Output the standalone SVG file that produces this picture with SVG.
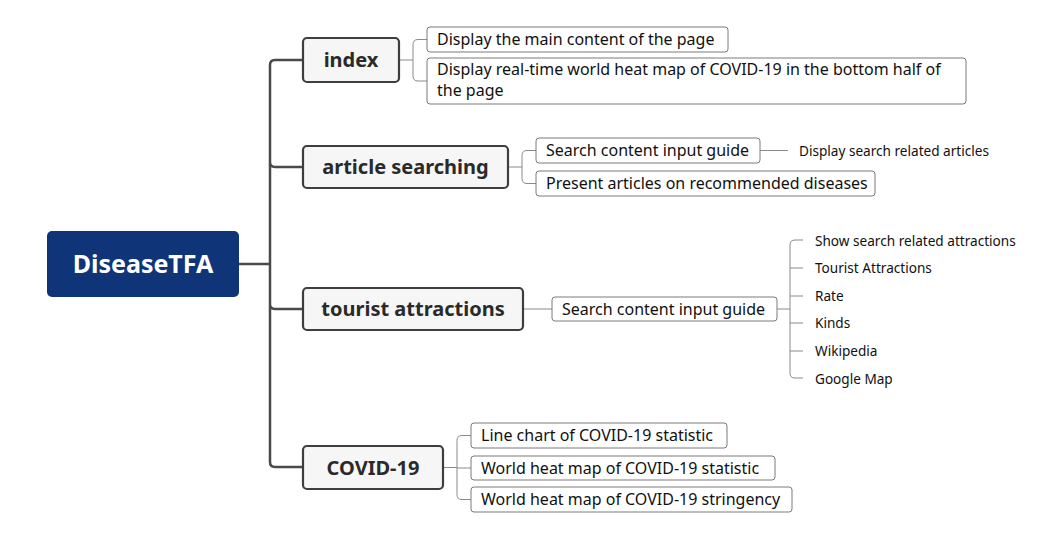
<svg xmlns="http://www.w3.org/2000/svg" width="1061" height="534" viewBox="0 0 1061 534">
<style>
.bg{fill:#ffffff}
.root{fill:#0f3477}
.roott{font-family:"Noto Sans",sans-serif;font-weight:bold;font-size:25px;fill:#ffffff;text-anchor:middle}
.l1{fill:#f6f6f6;stroke:#3e3e3e;stroke-width:2.2}
.l1t{font-family:"Noto Sans",sans-serif;font-weight:bold;font-size:20px;fill:#2a2a2a;text-anchor:middle}
.l2{fill:#ffffff;stroke:#7a7a7a;stroke-width:1}
.l2t{font-family:"Noto Sans",sans-serif;font-size:16px;fill:#111111}
.l3t{font-family:"Noto Sans",sans-serif;font-size:13.6px;fill:#111111}
.main{fill:none;stroke:#4a4a4a;stroke-width:2.5}
.sub{fill:none;stroke:#8a8a8a;stroke-width:1}
</style>
<rect class="bg" x="0" y="0" width="1061" height="534"/>
<g id="connectors">
<path class="main" d="M239,264 H270 M270,462 V65 Q270,60 275,60 H303 M270,162 Q270,167 275,167 H303 M270,304 Q270,309 275,309 H303 M270,462 Q270,467 275,467 H303"/>
<path class="sub" d="M399,60 H413 M413,60 V44.5 Q413,39.5 418,39.5 H427 M413,60 V76 Q413,81 418,81 H427"/>
<path class="sub" d="M508,167 H522 M522,167 V155.5 Q522,150.5 527,150.5 H536 M522,167 V178.5 Q522,183.5 527,183.5 H536 M760,150.5 H788"/>
<path class="sub" d="M523,309 H552 M777,309 H790 M790,373 V245 Q790,240 795,240 H803 M790,268 H803 M790,296 H803 M790,323 H803 M790,351 H803 M790,373 Q790,378 795,378 H803"/>
<path class="sub" d="M443,467.5 H457 M457,467.5 V440.5 Q457,435.5 462,435.5 H471 M457,468 H471 M457,467.5 V494.5 Q457,499.5 462,499.5 H471"/>
</g>
<g id="root">
<rect class="root" x="47" y="231" width="192" height="66" rx="5"/>
<text class="roott" x="143" y="273">DiseaseTFA</text>
</g>
<g id="index">
<rect class="l1" x="303" y="38" width="96" height="44" rx="4"/>
<text class="l1t" x="351" y="67">index</text>
</g>
<g id="index-main">
<rect class="l2" x="427" y="27" width="301" height="25" rx="3"/>
<text class="l2t" x="437" y="45">Display the main content of the page</text>
</g>
<g id="index-heatmap">
<rect class="l2" x="427" y="58" width="539" height="46" rx="3"/>
<text class="l2t" x="437" y="75">Display real-time world heat map of COVID-19 in the bottom half of</text>
<text class="l2t" x="437" y="96">the page</text>
</g>
<g id="article">
<rect class="l1" x="303" y="146" width="205" height="42" rx="4"/>
<text class="l1t" x="405.5" y="174">article searching</text>
</g>
<g id="article-guide">
<rect class="l2" x="536" y="138" width="224" height="25" rx="3"/>
<text class="l2t" x="546" y="156">Search content input guide</text>
</g>
<g id="article-related">
<text class="l3t" x="799" y="155.5">Display search related articles</text>
</g>
<g id="article-recommend">
<rect class="l2" x="536" y="171" width="339" height="25" rx="3"/>
<text class="l2t" x="546" y="189">Present articles on recommended diseases</text>
</g>
<g id="tourist">
<rect class="l1" x="303" y="288" width="220" height="42" rx="4"/>
<text class="l1t" x="413" y="316">tourist attractions</text>
</g>
<g id="tourist-guide">
<rect class="l2" x="552" y="297" width="225" height="24" rx="3"/>
<text class="l2t" x="562" y="314.5">Search content input guide</text>
</g>
<g id="t-show"><text class="l3t" x="815" y="245.5">Show search related attractions</text></g>
<g id="t-attr"><text class="l3t" x="815" y="273">Tourist Attractions</text></g>
<g id="t-rate"><text class="l3t" x="815" y="301">Rate</text></g>
<g id="t-kinds"><text class="l3t" x="815" y="328">Kinds</text></g>
<g id="t-wiki"><text class="l3t" x="815" y="356">Wikipedia</text></g>
<g id="t-map"><text class="l3t" x="815" y="383.5">Google Map</text></g>
<g id="covid">
<rect class="l1" x="303" y="446" width="140" height="43" rx="4"/>
<text class="l1t" x="373" y="474.5">COVID-19</text>
</g>
<g id="covid-line">
<rect class="l2" x="471" y="423" width="256" height="25" rx="3"/>
<text class="l2t" x="481" y="441">Line chart of COVID-19 statistic</text>
</g>
<g id="covid-stat">
<rect class="l2" x="471" y="456" width="304" height="24" rx="3"/>
<text class="l2t" x="481" y="473.5">World heat map of COVID-19 statistic</text>
</g>
<g id="covid-string">
<rect class="l2" x="471" y="487" width="321" height="25" rx="3"/>
<text class="l2t" x="481" y="505">World heat map of COVID-19 stringency</text>
</g>
</svg>
